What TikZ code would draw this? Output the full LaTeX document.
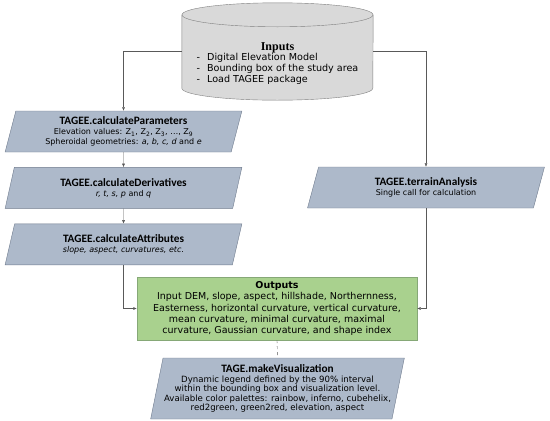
\documentclass[tikz,border=0pt]{standalone}
\usepackage{fontspec}
\setmainfont{DejaVu Sans}
\newfontfamily\titlefont{Carlito}
\newfontfamily\inputsfont{Liberation Serif}
\usepackage{tikz}
\usetikzlibrary{shapes.geometric, arrows.meta, positioning, backgrounds}

\definecolor{parafill}{HTML}{ADB9CA}
\definecolor{paraline}{HTML}{6E7A8C}
\definecolor{cylfill}{HTML}{D9D9D9}
\definecolor{cylline}{HTML}{7F7F7F}
\definecolor{outfill}{HTML}{A9D18E}
\definecolor{outline}{HTML}{86A877}
\definecolor{lineclr}{HTML}{595959}

\newcommand{\boxtitle}[1]{{\titlefont\bfseries\fontsize{11.3}{11}\selectfont #1}}

\tikzset{
	paral/.style={draw=paraline, fill=parafill, trapezium, trapezium left angle=76, trapezium right angle=104, trapezium stretches=true, minimum width=237pt, minimum height=41pt, inner sep=1pt, align=center, font=\fontsize{8}{10}\selectfont},
	cyl/.style={draw=cylline, fill=cylfill},
	flow/.style={draw=lineclr, -{Latex[length=3.5pt,width=3pt]}},
}

\begin{document}
\begin{tikzpicture}[x=1pt, y=-1pt]
	\useasboundingbox (0,0) rectangle (550,421);

	\node[minimum width=191pt, minimum height=97pt, inner sep=0pt, align=center, font=\fontsize{9.6}{11}\selectfont] (inp) at (277.5,51.5) {\\[23pt]{\inputsfont\bfseries\fontsize{12}{12}\selectfont Inputs}\\[-1pt]
		\begin{tabular}{@{}l@{\hspace{7pt}}l@{}}
		- & Digital Elevation Model\\
		- & Bounding box of the study area\\
		- & Load TAGEE package
		\end{tabular}};
	\begin{scope}[on background layer]
		\filldraw[cyl] ([yshift=-12pt]inp.north west) -- ([yshift=12pt]inp.south west) arc[start angle=180, end angle=360, x radius=95.5pt, y radius=12pt] -- ([yshift=-12pt]inp.north east) -- cycle;
		\filldraw[cyl] ([yshift=-12pt]inp.north) ellipse [x radius=95.5pt, y radius=12pt];
	\end{scope}

	\node[paral] (param) at (123.5,131.5) {\boxtitle{TAGEE.calculateParameters}\\
		Elevation values: Z\textsubscript{1}, Z\textsubscript{2}, Z\textsubscript{3}, \ldots, Z\textsubscript{9}\\
		Spheroidal geometries: \textit{a, b, c, d} and \textit{e}};
	\node[paral, below=15pt of param] (deriv) {\boxtitle{TAGEE.calculateDerivatives}\\
		\textit{r, t, s, p} and \textit{q}};
	\node[paral, below=15pt of deriv] (attr) {\boxtitle{TAGEE.calculateAttributes}\\
		\textit{slope, aspect, curvatures, etc.}};

	\node[paral] (terr) at (426,187.5) {\boxtitle{TAGEE.terrainAnalysis}\\
		Single call for calculation};

	\node[draw=outline, fill=outfill, minimum width=280pt, minimum height=63pt, inner sep=1pt, align=center, font=\fontsize{9.5}{11.4}\selectfont] (out) at (277,308.5) {\textbf{Outputs}\\
		Input DEM, slope, aspect, hillshade, Northernness,\\
		Easterness, horizontal curvature, vertical curvature,\\
		mean curvature, minimal curvature, maximal\\
		curvature, Gaussian curvature, and shape index};

	\node[paral, minimum width=249pt, minimum height=61pt, font=\fontsize{8.6}{9.5}\selectfont] (vis) at (277.5,388.5) {\boxtitle{TAGE.makeVisualization}\\
		Dynamic legend defined by the 90\% interval\\
		within the bounding box and visualization level.\\
		Available color palettes: rainbow, inferno, cubehelix,\\
		red2green, green2red, elevation, aspect};

	\draw[flow] (inp.west) -| (param.north);
	\draw[flow] (inp.east) -| (terr.north);
	\draw[flow] (param) -- (deriv);
	\draw[flow] (deriv) -- (attr);
	\draw[flow] (attr.south) |- (out.west);
	\draw[flow] (terr.south) |- (out.east);
	\draw[lineclr, dashed] (out.south) -- (vis.north);
\end{tikzpicture}
\end{document}
